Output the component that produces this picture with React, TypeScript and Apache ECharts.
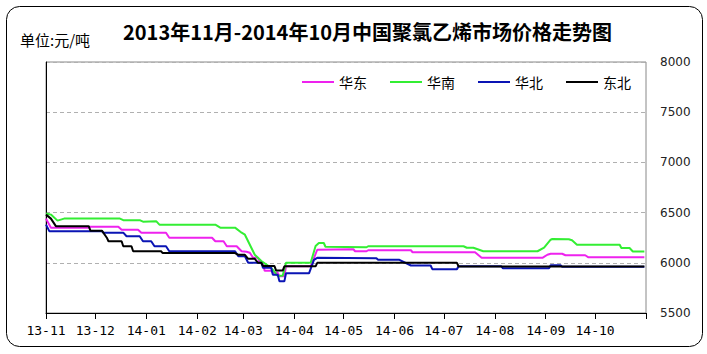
import React, { useEffect, useRef } from "react";
import * as echarts from "echarts";

const titleText = "2013年11月-2014年10月中国聚氯乙烯市场价格走势图";
const unitText = "单位:元/吨";
const seriesNames = ["华东", "华南", "华北", "东北"];
const seriesColors = ["#ee22ee", "#33ee33", "#0a14b4", "#000000"];

const monthStarts = ["2013-11-01", "2013-12-01", "2014-01-01", "2014-02-01", "2014-03-01", "2014-04-01", "2014-05-01", "2014-06-01", "2014-07-01", "2014-08-01", "2014-09-01", "2014-10-01", "2014-11-01"];
const monthLabels = ["13-11", "13-12", "14-01", "14-02", "14-03", "14-04", "14-05", "14-06", "14-07", "14-08", "14-09", "14-10"];
const yTicks = [5500, 6000, 6500, 7000, 7500, 8000];

// 华东
const eastDates = ["2013-11-01", "2013-11-04", "2013-11-27", "2013-11-28", "2013-12-15", "2013-12-17", "2013-12-27", "2013-12-29", "2014-01-13", "2014-01-15", "2014-02-10", "2014-02-12", "2014-02-17", "2014-02-19", "2014-02-25", "2014-02-28", "2014-03-03", "2014-03-05", "2014-03-07", "2014-03-10", "2014-03-11", "2014-03-13", "2014-03-14", "2014-03-18", "2014-03-19", "2014-03-22", "2014-03-23", "2014-03-26", "2014-03-27", "2014-04-11", "2014-04-15", "2014-05-07", "2014-05-08", "2014-05-15", "2014-05-16", "2014-06-11", "2014-06-12", "2014-07-20", "2014-07-24", "2014-08-30", "2014-09-02", "2014-09-04", "2014-09-11", "2014-09-13", "2014-09-25", "2014-09-27", "2014-10-31"];
const eastValues = [6440, 6350, 6350, 6360, 6360, 6330, 6330, 6300, 6300, 6250, 6250, 6215, 6215, 6165, 6165, 6115, 6110, 6100, 6050, 6050, 6000, 6000, 5920, 5920, 5900, 5900, 5865, 5865, 5965, 5965, 6130, 6135, 6115, 6115, 6125, 6125, 6105, 6105, 6050, 6050, 6080, 6090, 6090, 6075, 6075, 6055, 6055];

// 华南
const southDates = ["2013-11-01", "2013-11-04", "2013-11-08", "2013-11-12", "2013-12-16", "2013-12-18", "2013-12-28", "2013-12-30", "2014-01-07", "2014-01-09", "2014-02-12", "2014-02-15", "2014-02-24", "2014-02-28", "2014-03-02", "2014-03-08", "2014-03-12", "2014-03-18", "2014-03-22", "2014-03-25", "2014-03-27", "2014-04-11", "2014-04-14", "2014-04-16", "2014-04-19", "2014-04-20", "2014-05-15", "2014-05-16", "2014-07-13", "2014-07-15", "2014-07-19", "2014-07-25", "2014-08-27", "2014-08-31", "2014-09-04", "2014-09-05", "2014-09-15", "2014-09-17", "2014-09-20", "2014-10-16", "2014-10-17", "2014-10-22", "2014-10-24", "2014-10-31"];
const southValues = [6490, 6480, 6420, 6440, 6440, 6425, 6425, 6410, 6415, 6380, 6380, 6350, 6350, 6300, 6280, 6080, 6017, 5950, 5870, 5870, 6000, 6000, 6167, 6197, 6197, 6160, 6155, 6165, 6165, 6150, 6150, 6115, 6115, 6150, 6230, 6237, 6235, 6225, 6180, 6180, 6147, 6147, 6113, 6113];

// 华北
const northDates = ["2013-11-01", "2013-11-03", "2013-12-05", "2013-12-06", "2013-12-18", "2013-12-20", "2013-12-28", "2013-12-30", "2014-01-04", "2014-01-06", "2014-01-13", "2014-01-15", "2014-02-24", "2014-02-26", "2014-03-02", "2014-03-04", "2014-03-12", "2014-03-13", "2014-03-18", "2014-03-19", "2014-03-22", "2014-03-23", "2014-03-26", "2014-03-27", "2014-04-10", "2014-04-13", "2014-04-15", "2014-05-21", "2014-05-22", "2014-06-04", "2014-06-11", "2014-06-23", "2014-06-24", "2014-07-09", "2014-07-10", "2014-08-05", "2014-08-06", "2014-09-03", "2014-09-04", "2014-09-10", "2014-09-11", "2014-10-31"];
const northValues = [6380, 6315, 6315, 6300, 6300, 6265, 6265, 6215, 6215, 6165, 6165, 6115, 6115, 6065, 6065, 6000, 6000, 5950, 5950, 5880, 5880, 5815, 5815, 5895, 5895, 6030, 6050, 6045, 6030, 6030, 5973, 5973, 5937, 5937, 5965, 5965, 5945, 5945, 5975, 5975, 5960, 5960];

// 东北
const northeastDates = ["2013-11-01", "2013-11-04", "2013-11-07", "2013-11-27", "2013-11-28", "2013-12-05", "2013-12-08", "2013-12-09", "2013-12-17", "2013-12-18", "2013-12-23", "2013-12-24", "2014-01-10", "2014-01-11", "2014-02-24", "2014-02-26", "2014-03-02", "2014-03-04", "2014-03-08", "2014-03-10", "2014-03-12", "2014-03-13", "2014-03-20", "2014-03-21", "2014-03-25", "2014-03-26", "2014-04-14", "2014-04-15", "2014-07-09", "2014-07-10", "2014-10-31"];
const northeastValues = [6480, 6440, 6365, 6365, 6320, 6320, 6250, 6215, 6215, 6165, 6165, 6115, 6115, 6097, 6097, 6080, 6080, 6040, 6040, 6000, 6000, 5967, 5967, 5923, 5923, 5965, 5965, 6000, 6000, 5963, 5963];

const ts = (s: string) => {
  const [y, m, d] = s.split("-").map(Number);
  return Date.UTC(y, m - 1, d);
};

const zip = (dates: string[], values: number[]) => dates.map((d, i) => [ts(d), values[i]]);

export default function App() {
  const ref = useRef<HTMLDivElement>(null);
  useEffect(() => {
    if (!ref.current) return;
    const chart = echarts.init(ref.current, undefined, { renderer: "svg" });
    const monthTs = monthStarts.map(ts);
    const seriesData = [
      zip(eastDates, eastValues),
      zip(southDates, southValues),
      zip(northDates, northValues),
      zip(northeastDates, northeastValues),
    ];
    const cjk = "'Noto Sans CJK SC', sans-serif";
    chart.setOption({
      animation: false,
      backgroundColor: "#ffffff",
      title: [
        {
          text: titleText,
          left: 123,
          top: 21,
          padding: 0,
          textStyle: { fontFamily: cjk, fontSize: 20, fontWeight: "bold", color: "#000" },
        },
        {
          text: unitText,
          left: 20,
          top: 32,
          padding: 0,
          textStyle: { fontFamily: cjk, fontSize: 15, fontWeight: "normal", color: "#000" },
        },
      ],
      legend: {
        left: 302,
        top: 75,
        padding: 0,
        icon: "rect",
        itemWidth: 32,
        itemHeight: 2,
        itemGap: 23,
        textStyle: { fontFamily: cjk, fontSize: 14, color: "#000" },
        data: seriesNames,
      },
      grid: {
        left: 46,
        right: 61,
        top: 62,
        bottom: 41,
        show: true,
        borderColor: "#888888",
        borderWidth: 1,
        backgroundColor: "transparent",
      },
      xAxis: {
        type: "value",
        min: monthTs[0],
        max: monthTs[monthTs.length - 1],
        axisLine: { show: true, onZero: false, lineStyle: { color: "#000", width: 1 } },
        axisTick: {
          show: true,
          length: 6,
          lineStyle: { color: "#000" },
          customValues: monthTs,
        },
        axisLabel: {
          show: true,
          customValues: monthTs.slice(0, monthLabels.length),
          formatter: (v: number) => {
            const i = monthTs.indexOf(v);
            return i >= 0 && i < monthLabels.length ? monthLabels[i] : "";
          },
          margin: 11,
          fontFamily: "'DejaVu Sans Mono', monospace",
          fontSize: 13,
          color: "#000",
          hideOverlap: false,
        },
        splitLine: { show: false },
      },
      yAxis: [
        {
          type: "value",
          position: "right",
          min: yTicks[0],
          max: yTicks[yTicks.length - 1],
          interval: 500,
          axisLine: { show: false },
          axisTick: { show: false },
          axisLabel: {
            margin: 14,
            formatter: (v: number) => String(v),
            fontFamily: "'DejaVu Sans', sans-serif",
            fontSize: 12,
            color: "#222",
          },
          splitLine: { show: true, lineStyle: { color: "#b0b0b0", type: [4, 3], width: 1 } },
        },
        {
          type: "value",
          position: "left",
          min: yTicks[0],
          max: yTicks[yTicks.length - 1],
          interval: 500,
          axisLine: { show: true, onZero: false, lineStyle: { color: "#000", width: 1 } },
          axisTick: { show: false },
          axisLabel: { show: false },
          splitLine: { show: false },
        },
      ],
      series: seriesNames.map((name, i) => ({
        name,
        type: "line",
        yAxisIndex: 0,
        data: seriesData[i],
        showSymbol: false,
        symbol: "none",
        lineStyle: { width: 2, color: seriesColors[i] },
        itemStyle: { color: seriesColors[i] },
      })),
      graphic: [
        {
          type: "rect",
          shape: { x: 6.5, y: 6.5, width: 696, height: 340, r: 13 },
          style: { fill: "none", stroke: "#000", lineWidth: 1 },
          silent: true,
          z: 100,
        },
      ],
    });
    return () => chart.dispose();
  }, []);
  return (
    <div
      ref={ref}
      style={{ position: "absolute", left: 0, top: 0, width: 707, height: 354 }}
    />
  );
}
